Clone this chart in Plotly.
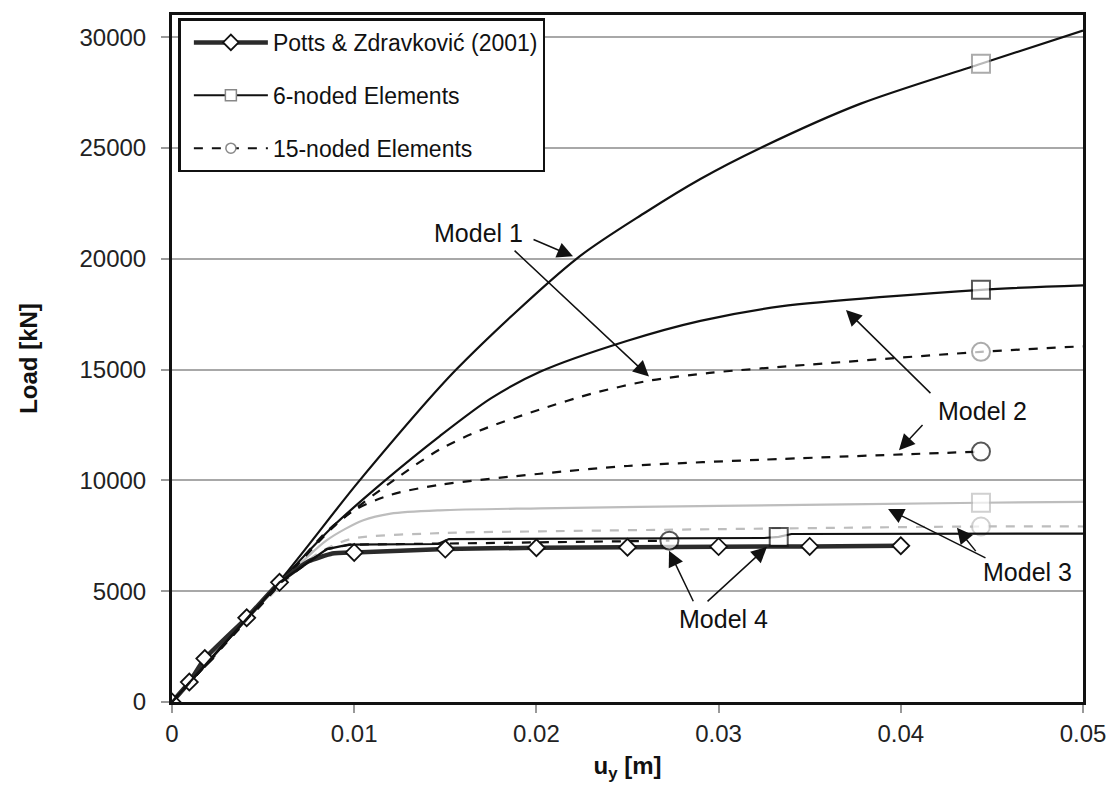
import plotly.graph_objects as go

# ---------------- data ----------------
potts_x = [0, 0.00095, 0.0018, 0.0041, 0.0059, 0.0075, 0.0088, 0.010, 0.015, 0.020, 0.025, 0.030, 0.035, 0.040]
potts_y = [0, 900, 1960, 3800, 5400, 6350, 6700, 6750, 6900, 6960, 6980, 7010, 7020, 7050]
potts_mx = [0, 0.00095, 0.0018, 0.0041, 0.0059, 0.010, 0.015, 0.020, 0.025, 0.030, 0.035, 0.040]
potts_my = [0, 900, 1960, 3800, 5400, 6750, 6900, 6960, 6980, 7010, 7020, 7050]

m1_6_x = [0, 0.0059, 0.0103, 0.0156, 0.0222, 0.026, 0.029, 0.0323, 0.0378, 0.0444, 0.050]
m1_6_y = [0, 5450, 10000, 15000, 20000, 22100, 23600, 25000, 27000, 28800, 30300]
m1_15_x = [0, 0.0059, 0.009, 0.0125, 0.0147, 0.0169, 0.0202, 0.0232, 0.0262, 0.0295, 0.0323, 0.0444, 0.050]
m1_15_y = [0, 5300, 8000, 10200, 11400, 12250, 13200, 13950, 14500, 14850, 15050, 15800, 16050]

m2_6_x = [0, 0.0059, 0.0088, 0.0117, 0.0147, 0.0175, 0.0202, 0.025, 0.029, 0.0334, 0.0444, 0.050]
m2_6_y = [0, 5400, 7900, 10000, 12000, 13700, 14900, 16300, 17200, 17850, 18600, 18800]
m2_15_x = [0, 0.0059, 0.0085, 0.0101, 0.012, 0.0147, 0.0202, 0.025, 0.0323, 0.0444]
m2_15_y = [0, 5300, 7700, 8700, 9350, 9800, 10300, 10650, 10930, 11300]

m3_6_x = [0, 0.0059, 0.0085, 0.0105, 0.012, 0.0147, 0.0202, 0.030, 0.0444, 0.050]
m3_6_y = [0, 5300, 7300, 8200, 8500, 8650, 8740, 8850, 8990, 9030]
m3_15_x = [0, 0.0059, 0.008, 0.0098, 0.0147, 0.0202, 0.030, 0.0444, 0.050]
m3_15_y = [0, 5200, 6700, 7350, 7620, 7700, 7800, 7920, 7920]

m4_6_x = [0, 0.0059, 0.0085, 0.0097, 0.0146, 0.0152, 0.0325, 0.0333, 0.0340, 0.050]
m4_6_y = [0, 5400, 6900, 7100, 7130, 7350, 7400, 7450, 7580, 7600]
m4_15_x = [0, 0.0059, 0.0085, 0.0098, 0.015, 0.020, 0.0273]
m4_15_y = [0, 5350, 6900, 7100, 7150, 7200, 7280]

# end-marker indices (marker drawn only at that point)
m1_6_mark, m1_15_mark = 9, 11
m2_6_mark, m2_15_mark = 10, 9
m3_6_mark, m3_15_mark = 8, 7
m4_6_mark, m4_15_mark = 7, 6

x_ticks = [0, 0.01, 0.02, 0.03, 0.04, 0.05]
x_ticktext = ["0", "0.01", "0.02", "0.03", "0.04", "0.05"]
y_ticks = [0, 5000, 10000, 15000, 20000, 25000, 30000]

legend_names = ["Potts & Zdravković (2001)", "6-noded Elements", "15-noded Elements"]

# ---------------- figure ----------------
fig = go.Figure()

BLACK = "#111111"
GRAY = "#bdbdbd"


def sizes(n, idx, s):
    return [s if i == idx else 0 for i in range(n)]


def add_curve(x, y, idx, color, dash, symbol, edge, shape="spline"):
    fig.add_trace(go.Scatter(
        x=x, y=y, mode="lines+markers", showlegend=False,
        line=dict(color=color, width=2.2, dash=dash, shape=shape, smoothing=0.8),
        marker=dict(symbol=symbol, size=sizes(len(x), idx, 18), color="white",
                    line=dict(color=edge, width=2)),
        hoverinfo="skip"))


add_curve(m3_6_x, m3_6_y, m3_6_mark, GRAY, "solid", "square", GRAY)
add_curve(m3_15_x, m3_15_y, m3_15_mark, GRAY, "dash", "circle", GRAY)
add_curve(m1_6_x, m1_6_y, m1_6_mark, BLACK, "solid", "square", "#888888")
add_curve(m1_15_x, m1_15_y, m1_15_mark, BLACK, "dash", "circle", "#888888")
add_curve(m2_6_x, m2_6_y, m2_6_mark, BLACK, "solid", "square", BLACK)
add_curve(m2_15_x, m2_15_y, m2_15_mark, BLACK, "dash", "circle", BLACK)

# Potts & Zdravkovic reference line
fig.add_trace(go.Scatter(
    x=potts_x, y=potts_y, mode="lines", showlegend=False,
    line=dict(color="#2b2b2b", width=4.5, shape="spline", smoothing=0.4),
    hoverinfo="skip"))
fig.add_trace(go.Scatter(
    x=potts_mx, y=potts_my, mode="markers", showlegend=False,
    marker=dict(symbol="diamond", size=13, color="white", line=dict(color=BLACK, width=1.8)),
    hoverinfo="skip"))

add_curve(m4_15_x, m4_15_y, m4_15_mark, BLACK, "dash", "circle", BLACK, shape="linear")
add_curve(m4_6_x, m4_6_y, m4_6_mark, BLACK, "solid", "square", BLACK, shape="linear")

# legend-only entries
fig.add_trace(go.Scatter(
    x=[None], y=[None], mode="lines+markers", name=legend_names[0], legendgroup="a",
    line=dict(color="#2b2b2b", width=4.5),
    marker=dict(symbol="diamond", size=12, color="white", line=dict(color=BLACK, width=1.8))))
fig.add_trace(go.Scatter(
    x=[None], y=[None], mode="lines+markers", name=legend_names[1], legendgroup="b",
    line=dict(color=BLACK, width=2),
    marker=dict(symbol="square", size=11, color="white", line=dict(color="#888888", width=1.5))))
fig.add_trace(go.Scatter(
    x=[None], y=[None], mode="lines+markers", name=legend_names[2], legendgroup="c",
    line=dict(color=BLACK, width=2, dash="dash"),
    marker=dict(symbol="circle", size=10, color="white", line=dict(color="#888888", width=1.5))))

# ---------------- annotations ----------------
FONT = "Liberation Sans, Arial, sans-serif"
labels = [
    ("Model 1", 0.0168, 21150),
    ("Model 2", 0.04446, 13150),
    ("Model 3", 0.04693, 5850),
    ("Model 4", 0.03025, 3760),
]
for t, lx, ly in labels:
    fig.add_annotation(x=lx, y=ly, text=t, showarrow=False,
                       font=dict(family=FONT, size=25, color="#111"))

arrows = [  # (tail_x, tail_y, head_x, head_y)
    (0.01976, 20900, 0.02201, 20110),
    (0.01872, 20430, 0.02618, 14690),
    (0.04171, 13870, 0.03699, 17690),
    (0.04127, 12570, 0.03990, 11360),
    (0.04473, 6470, 0.03930, 8710),
    (0.04418, 6740, 0.04308, 7860),
    (0.02865, 4480, 0.02728, 6830),
    (0.02931, 4480, 0.03266, 7000),
]
for tx, ty, hx, hy in arrows:
    fig.add_annotation(x=hx, y=hy, ax=tx, ay=ty, xref="x", yref="y", axref="x", ayref="y",
                       text="", showarrow=True, arrowhead=2, arrowsize=2.1, arrowwidth=1.5,
                       arrowcolor="#111")

# the page body has an 8 px margin; compensate so the plot area lands at x 172-1083, y 12-702
fig.update_layout(
    width=1108, height=779,
    margin=dict(l=164, r=33, t=4, b=85),
    paper_bgcolor="white", plot_bgcolor="white",
    font=dict(family=FONT, size=24, color="#222"),
    showlegend=True,
    legend=dict(x=0.007, y=0.995, xanchor="left", yanchor="top",
                bgcolor="white", bordercolor="#111", borderwidth=2.5,
                font=dict(family=FONT, size=23, color="#111"),
                traceorder="grouped", tracegroupgap=20, itemwidth=74,
                indentation=8),
)

fig.update_xaxes(
    range=[0, 0.05], tickvals=x_ticks, ticktext=x_ticktext,
    showgrid=False, zeroline=False,
    showline=True, mirror=True, linecolor="#111", linewidth=3,
    ticks="outside", ticklen=8, tickcolor="#999", tickwidth=1.5,
    tickfont=dict(family=FONT, size=24, color="#222"),
    title=dict(text="<b>u<sub>y</sub> [m]</b>", standoff=12,
               font=dict(family=FONT, size=24, color="#111")),
)
fig.update_yaxes(
    range=[0, 31000], tickvals=y_ticks, tickformat="d",
    showgrid=True, gridcolor="#a8a8a8", gridwidth=1.5, zeroline=False,
    showline=True, mirror=True, linecolor="#111", linewidth=3,
    ticks="outside", ticklen=8, tickcolor="#999", tickwidth=1.5,
    ticklabelstandoff=10,
    tickfont=dict(family=FONT, size=24, color="#222"),
    title=dict(text="<b>Load [kN]</b>", standoff=36,
               font=dict(family=FONT, size=24, color="#111")),
)

fig.write_html("out.html")
